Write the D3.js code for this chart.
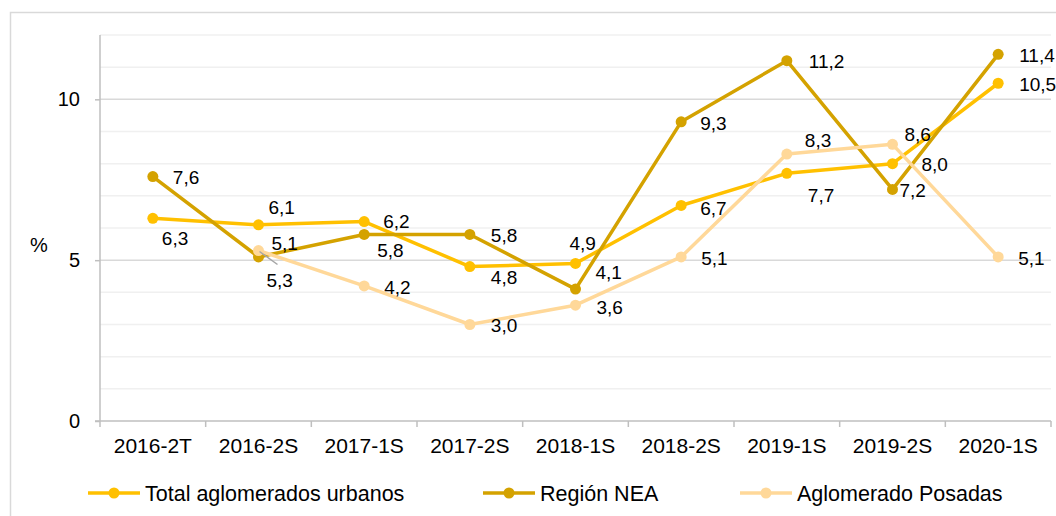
<!DOCTYPE html>
<html>
<head>
<meta charset="utf-8">
<script src="https://cdn.jsdelivr.net/npm/d3@7"></script>
<style>
  body { margin: 0; background: #fff; }
  svg { display: block; font-family: "Liberation Sans", Arial, sans-serif; }
</style>
</head>
<body>
<svg id="chart" width="1056" height="516"></svg>
<script>
const categories = ['2016-2T', '2016-2S', '2017-1S', '2017-2S', '2018-1S', '2018-2S', '2019-1S', '2019-2S', '2020-1S'];
const totalValues = [6.3, 6.1, 6.2, 4.8, 4.9, 6.7, 7.7, 8.0, 10.5];
const neaValues = [7.6, 5.1, 5.8, 5.8, 4.1, 9.3, 11.2, 7.2, 11.4];
const posadasValues = [null, 5.3, 4.2, 3.0, 3.6, 5.1, 8.3, 8.6, 5.1];
const seriesNames = ['Total aglomerados urbanos', 'Región NEA', 'Aglomerado Posadas'];
const yTicks = [0, 5, 10];
const yUnit = '%';

// label nudges (px from the point), one per category
const labelOffsets = [
    [[9, 20], [10, -17], [19, 0], [21, 11], [-6, -20], [19, 3], [21, 22], [29, 1], [21, 1]],
    [[20, 1], [13, -14], [13, 16], [21, 1], [20, -17], [19, 1], [22, 1], [7, 1], [21, 1]],
    [null, [8, 30], [20, 1], [21, 1], [21, 2], [20, 1], [18, -14], [12, -10], [20, 1]]
];
const colors = ['#FFC000', '#D4A200', '#FFD899'];

const svg = d3.select('#chart');
const margin = { top: 35, right: 5, bottom: 95, left: 100 };
const width = +svg.attr('width');
const height = +svg.attr('height');

const fmt = d3.formatLocale({ decimal: ',', thousands: '.', grouping: [3], currency: ['', ''] }).format('.1f');

const x = d3.scaleBand().domain(categories).range([margin.left, width - margin.right]);
const y = d3.scaleLinear().domain([0, 12]).range([height - margin.bottom, margin.top]);

// outer chart frame
svg.append('rect')
    .attr('x', 10.5).attr('y', 12.5)
    .attr('width', 1100).attr('height', 600)
    .attr('fill', '#fff')
    .attr('stroke', '#D9D9D9')
    .attr('stroke-width', 1.5);

// gridlines
svg.append('g')
    .selectAll('line')
    .data(d3.range(1, 13))
    .enter()
    .append('line')
    .attr('x1', margin.left).attr('x2', width - margin.right)
    .attr('y1', d => y(d)).attr('y2', d => y(d))
    .attr('stroke', d => yTicks.includes(d) ? '#D9D9D9' : '#F0F0F0')
    .attr('stroke-width', 1.5);

// y axis
const yAxis = svg.append('g')
    .attr('transform', `translate(${margin.left},0)`)
    .call(d3.axisLeft(y).tickValues(yTicks).tickSize(5).tickPadding(15).tickFormat(d3.format('d')));
yAxis.select('.domain').attr('stroke', '#BFBFBF').attr('stroke-width', 1.5).attr('d', `M0,${y(0)}V${y(12)}`);
yAxis.selectAll('.tick line').attr('stroke', '#BFBFBF').attr('stroke-width', 1.5);
yAxis.selectAll('.tick text').attr('font-size', 20).attr('fill', '#000').attr('font-family', 'Liberation Sans, Arial');

svg.append('text')
    .attr('x', 39).attr('y', 252)
    .attr('text-anchor', 'middle')
    .attr('font-size', 20)
    .text(yUnit);

// x axis, ticks on category boundaries
const xAxis = svg.append('g')
    .attr('transform', `translate(0,${y(0)})`)
    .call(d3.axisBottom(x).tickSize(0).tickPadding(17));
xAxis.select('.domain').attr('stroke', '#BFBFBF').attr('stroke-width', 1.5).attr('d', `M${margin.left - 5},0H${width - margin.right}`);
xAxis.selectAll('.tick text').attr('font-size', 21).attr('fill', '#000').attr('font-family', 'Liberation Sans, Arial');
xAxis.selectAll('line.bound')
    .data(categories.concat([null]))
    .enter()
    .append('line')
    .attr('class', 'bound')
    .attr('x1', (d, i) => margin.left + i * x.bandwidth())
    .attr('x2', (d, i) => margin.left + i * x.bandwidth())
    .attr('y1', 0).attr('y2', 6)
    .attr('stroke', '#BFBFBF')
    .attr('stroke-width', 1.5);

const series = [totalValues, neaValues, posadasValues].map((vals, s) => ({
    name: seriesNames[s],
    color: colors[s],
    points: vals.map((v, i) => ({ cat: categories[i], v, off: labelOffsets[s][i] })).filter(p => p.v !== null)
}));

const lineGen = d3.line()
    .x(d => x(d.cat) + x.bandwidth() / 2)
    .y(d => y(d.v));

series.forEach(s => {
    const g = svg.append('g');
    g.append('path')
        .datum(s.points)
        .attr('d', lineGen)
        .attr('fill', 'none')
        .attr('stroke', s.color)
        .attr('stroke-width', 3.5)
        .attr('stroke-linejoin', 'round');
    g.selectAll('circle')
        .data(s.points)
        .enter()
        .append('circle')
        .attr('cx', d => x(d.cat) + x.bandwidth() / 2)
        .attr('cy', d => y(d.v))
        .attr('r', 5.5)
        .attr('fill', s.color);
});

// leader line for the 2016-2S Posadas label
const leader = series[2].points[0];
svg.append('line')
    .attr('x1', x(leader.cat) + x.bandwidth() / 2 + 1)
    .attr('y1', y(leader.v) + 1)
    .attr('x2', x(leader.cat) + x.bandwidth() / 2 + 19)
    .attr('y2', y(leader.v) + 14)
    .attr('stroke', '#A6A6A6')
    .attr('stroke-width', 1.5);

// data labels
series.forEach(s => {
    svg.append('g')
        .selectAll('text')
        .data(s.points)
        .enter()
        .append('text')
        .attr('x', d => x(d.cat) + x.bandwidth() / 2 + d.off[0])
        .attr('y', d => y(d.v) + d.off[1])
        .attr('dy', '0.35em')
        .attr('font-size', 19)
        .attr('fill', '#000')
        .text(d => fmt(d.v));
});

// legend
const legendX = [88, 483, 740];
const legend = svg.append('g').attr('transform', 'translate(0,493)');
series.forEach((s, i) => {
    legend.append('line')
        .attr('x1', legendX[i]).attr('x2', legendX[i] + 52)
        .attr('y1', 0).attr('y2', 0)
        .attr('stroke', s.color)
        .attr('stroke-width', 3.5);
    legend.append('circle')
        .attr('cx', legendX[i] + 26).attr('cy', 0)
        .attr('r', 5.5)
        .attr('fill', s.color);
    legend.append('text')
        .attr('x', legendX[i] + 57).attr('y', 0)
        .attr('dy', '0.35em')
        .attr('font-size', 21.5)
        .attr('fill', '#000')
        .text(s.name);
});
</script>
</body>
</html>
